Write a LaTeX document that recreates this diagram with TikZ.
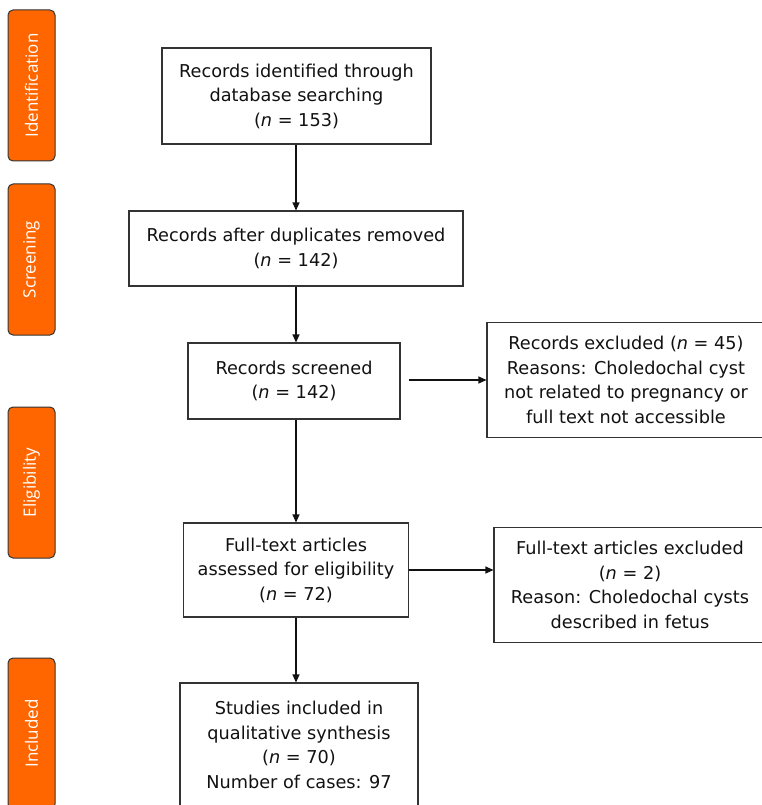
\documentclass[tikz,border=0pt]{standalone}
\usepackage{fontspec}
\setmainfont{DejaVu Sans}
\newfontfamily\tabfont{Open Sans}
\usetikzlibrary{arrows.meta}
\definecolor{ink}{HTML}{111111}
\definecolor{edge}{HTML}{333333}
\definecolor{tabfill}{HTML}{FF6600}

\begin{document}
\begin{tikzpicture}[x=1pt,y=-1pt,font=\fontsize{17.7}{24.5}\selectfont,text=ink,
    >={Triangle[length=8pt,width=7pt]},
    stepbox/.style={draw=edge,line width=1.1pt,align=center,inner sep=0pt},
    phase/.style={draw=edge,line width=1pt,fill=tabfill,rounded corners=5pt,
      minimum width=151pt,minimum height=47pt,rotate=90,text=white,
      font=\tabfont\fontsize{17}{20}\selectfont},
    link/.style={->,draw=ink,line width=1.1pt}]
  \useasboundingbox (0,0) rectangle (762,805);
  \clip (0,0) rectangle (762,805);
  % phase tabs on the left
  \node[phase] (ident) at (31.5,85.5) {Identification};
  \node[phase] (screen) at (31.5,259.5) {Screening};
  \node[phase] (elig) at (31.5,482.5) {Eligibility};
  \node[phase] (incl) at (31.5,733.5) {Included};
  % main column
  \node[stepbox,minimum width=269pt,minimum height=96pt] (found) at (296.5,96)
    {Records identified through\\database searching\\(\textit{n} = 153)};
  \node[stepbox,minimum width=334pt,minimum height=75pt] (dedup) at (296,248.5)
    {Records after duplicates removed\\(\textit{n} = 142)};
  \node[stepbox,minimum width=212pt,minimum height=76pt] (screened) at (294,381)
    {Records screened\\(\textit{n} = 142)};
  \node[stepbox,minimum width=225pt,minimum height=94pt] (fulltext) at (296,570)
    {Full-text articles\\assessed for eligibility\\(\textit{n} = 72)};
  \node[stepbox,minimum width=238pt,minimum height=124pt] (included) at (299,745)
    {Studies included in\\qualitative synthesis\\(\textit{n} = 70)\\Number of cases: 97};
  % exclusions
  \node[stepbox,minimum width=278pt,minimum height=115pt] (excl1) at (626,380)
    {Records excluded (\textit{n} = 45)\\Reasons: Choledochal cyst\\not related to pregnancy or\\full text not accessible};
  \node[stepbox,minimum width=272pt,minimum height=115pt] (excl2) at (630,585)
    {Full-text articles excluded\\(\textit{n} = 2)\\Reason: Choledochal cysts\\described in fetus};
  % arrows
  \draw[link] (dedup.north |- found.south) -- (dedup.north);
  \draw[link] (dedup.south) -- (dedup.south |- screened.north);
  \draw[link] (dedup.south |- screened.south) -- (dedup.south |- fulltext.north);
  \draw[link] ([xshift=8pt]screened.east |- excl1.west) -- (excl1.west);
  \draw[link] (fulltext.east) -- (fulltext.east -| excl2.west);
  \draw[link] (fulltext.south) -- (fulltext.south |- included.north);
\end{tikzpicture}
\end{document}
